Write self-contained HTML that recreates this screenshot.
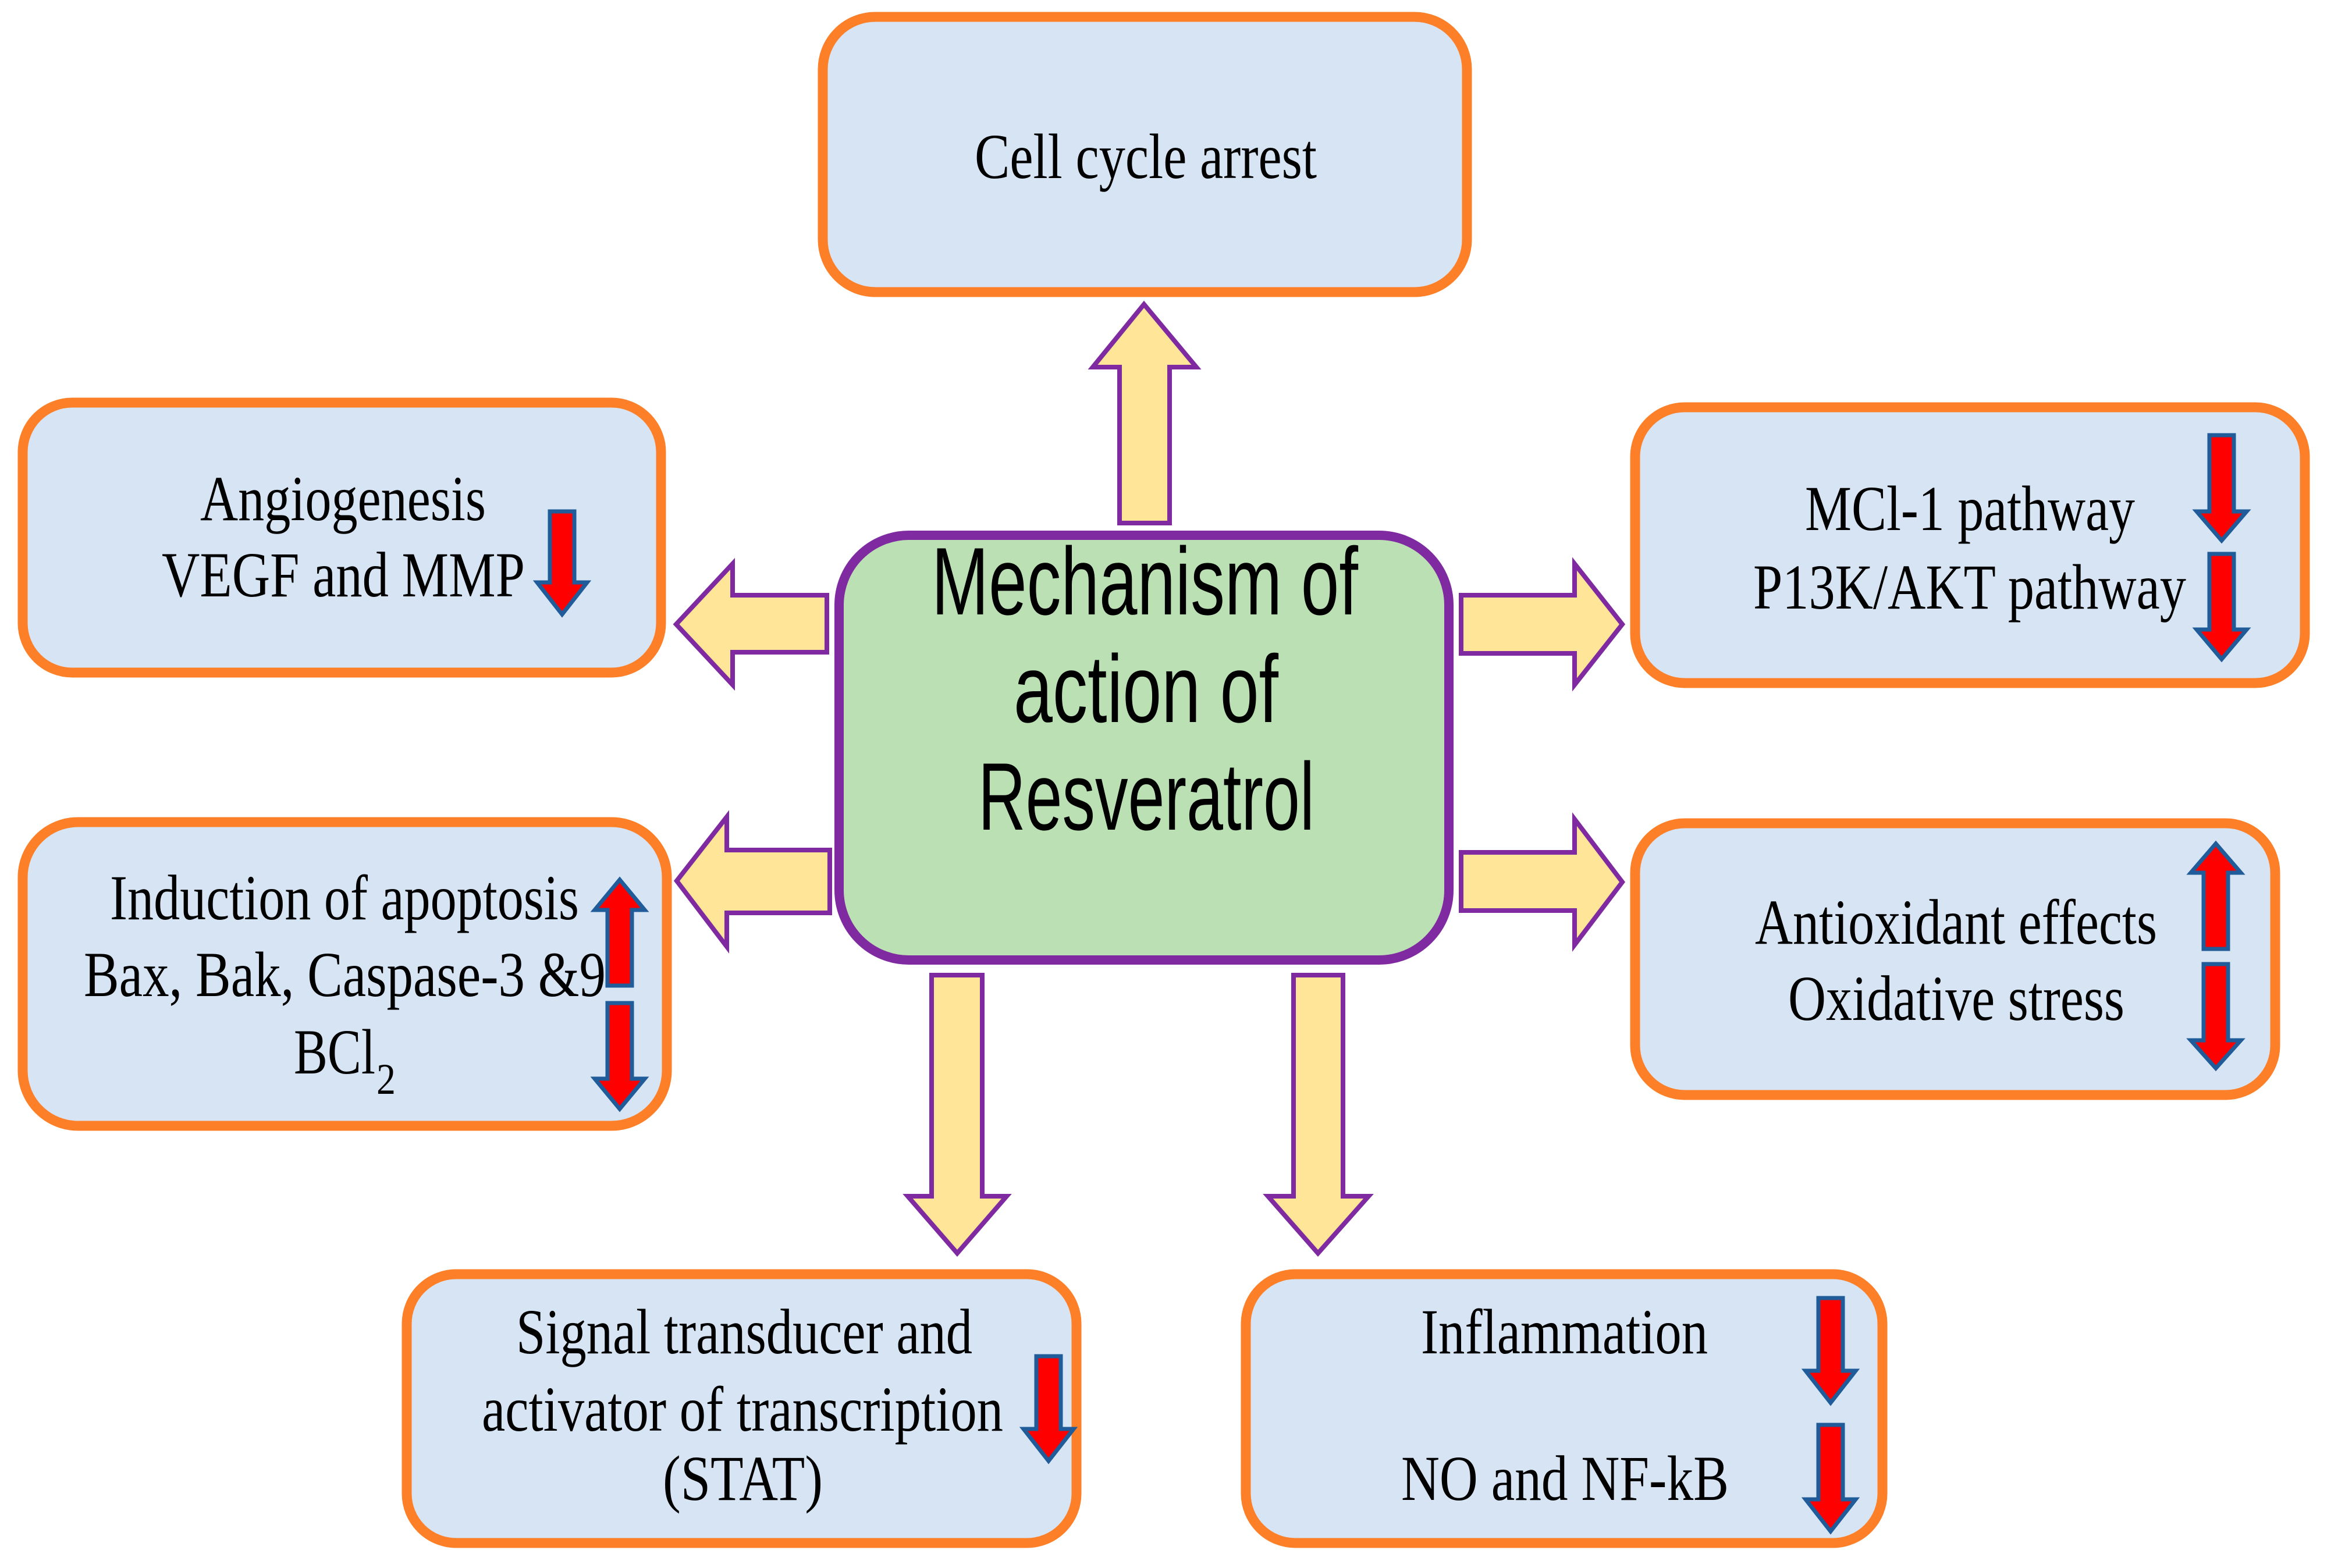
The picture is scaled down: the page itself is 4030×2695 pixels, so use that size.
<!DOCTYPE html>
<html><head><meta charset="utf-8"><style>html,body{margin:0;padding:0;background:#fff}svg{display:block}</style></head>
<body>
<svg width="4030" height="2695" viewBox="0 0 4030 2695" xmlns="http://www.w3.org/2000/svg">
<g fill="#d7e4f3" stroke="#fd7f28" stroke-width="17">
<rect x="1414" y="29" width="1107" height="473" rx="90"/>
<rect x="39" y="692" width="1097" height="464" rx="85"/>
<rect x="2810" y="700" width="1151" height="474" rx="85"/>
<rect x="39" y="1413" width="1107" height="522" rx="95"/>
<rect x="2810" y="1415" width="1100" height="467" rx="85"/>
<rect x="699" y="2190" width="1151" height="462" rx="85"/>
<rect x="2141" y="2190" width="1094" height="462" rx="85"/>
</g>
<rect x="1442" y="920" width="1048" height="730" rx="120" fill="#bbe0b4" stroke="#7f2aa0" stroke-width="16"/>
<g fill="#fee597" stroke="#7f2aa0" stroke-width="8">
<polygon points="1966,523 2056,631 2010,631 2010,899 1924,899 1924,631 1878,631"/>
<polygon points="1162,1073 1259,969 1259,1023 1421,1023 1421,1121 1259,1121 1259,1177"/>
<polygon points="1163,1514 1249,1404 1249,1461 1426,1461 1426,1569 1249,1569 1249,1627"/>
<polygon points="2788,1073 2706,969 2706,1023 2511,1023 2511,1123 2706,1123 2706,1177"/>
<polygon points="2788,1516 2706,1408 2706,1465 2511,1465 2511,1565 2706,1565 2706,1624"/>
<polygon points="1601,1676 1688,1676 1688,2056 1730,2056 1645,2154 1560,2056 1601,2056"/>
<polygon points="2223,1676 2308,1676 2308,2056 2352,2056 2265,2154 2179,2056 2223,2056"/>
</g>
<g fill="#ff0000" stroke="#1f5c99" stroke-width="7">
<polygon points="945,879 987,879 987,1001 1009,1001 966,1056 923,1001 945,1001"/>
<polygon points="3797,748 3839,748 3839,879 3861,879 3818,929 3775,879 3797,879"/>
<polygon points="3797,952 3839,952 3839,1082 3861,1082 3818,1133 3775,1082 3797,1082"/>
<polygon points="3808,1450 3851,1500 3829,1500 3829,1631 3787,1631 3787,1500 3765,1500"/>
<polygon points="3787,1657 3829,1657 3829,1788 3851,1788 3808,1836 3765,1788 3787,1788"/>
<polygon points="1065,1512 1108,1564 1086,1564 1086,1694 1044,1694 1044,1564 1022,1564"/>
<polygon points="1044,1724 1086,1724 1086,1854 1108,1854 1065,1906 1022,1854 1044,1854"/>
<polygon points="1781,2331 1823,2331 1823,2456 1845,2456 1802,2511 1759,2456 1781,2456"/>
<polygon points="3125,2231 3167,2231 3167,2356 3189,2356 3146,2411 3103,2356 3125,2356"/>
<polygon points="3125,2449 3167,2449 3167,2577 3189,2577 3146,2632 3103,2577 3125,2577"/>
</g>
<g font-family="'Liberation Serif', serif" font-size="110" fill="#000" lengthAdjust="spacingAndGlyphs">
<text x="1675" y="306" textLength="588" lengthAdjust="spacingAndGlyphs">Cell cycle arrest</text>
<text x="344" y="894" textLength="491" lengthAdjust="spacingAndGlyphs">Angiogenesis</text>
<text x="278" y="1025" textLength="624" lengthAdjust="spacingAndGlyphs">VEGF and MMP</text>
<text x="3102" y="911" textLength="567" lengthAdjust="spacingAndGlyphs">MCl-1 pathway</text>
<text x="3013" y="1046" textLength="744" lengthAdjust="spacingAndGlyphs">P13K/AKT pathway</text>
<text x="189" y="1580" textLength="806" lengthAdjust="spacingAndGlyphs">Induction of apoptosis</text>
<text x="144" y="1712" textLength="897" lengthAdjust="spacingAndGlyphs">Bax, Bak, Caspase-3 &amp;9</text>
<text x="505" y="1845" textLength="140" lengthAdjust="spacingAndGlyphs">BCl</text>
<text x="647" y="1880" font-size="75" textLength="33" lengthAdjust="spacingAndGlyphs">2</text>
<text x="3016" y="1622" textLength="691" lengthAdjust="spacingAndGlyphs">Antioxidant effects</text>
<text x="3073" y="1753" textLength="578" lengthAdjust="spacingAndGlyphs">Oxidative stress</text>
<text x="887" y="2326" textLength="784" lengthAdjust="spacingAndGlyphs">Signal transducer and</text>
<text x="828" y="2459" textLength="896" lengthAdjust="spacingAndGlyphs">activator of transcription</text>
<text x="1139" y="2578" textLength="275" lengthAdjust="spacingAndGlyphs">(STAT)</text>
<text x="2442" y="2326" textLength="493" lengthAdjust="spacingAndGlyphs">Inflammation</text>
<text x="2408" y="2578" textLength="563" lengthAdjust="spacingAndGlyphs">NO and NF-kB</text>
</g>
<g font-family="'Liberation Sans', sans-serif" font-size="165" fill="#000">
<text x="1601" y="1056" textLength="733" lengthAdjust="spacingAndGlyphs">Mechanism of</text>
<text x="1742" y="1241" textLength="455" lengthAdjust="spacingAndGlyphs">action of</text>
<text x="1681" y="1426" textLength="578" lengthAdjust="spacingAndGlyphs">Resveratrol</text>
</g>
</svg>
</body></html>
